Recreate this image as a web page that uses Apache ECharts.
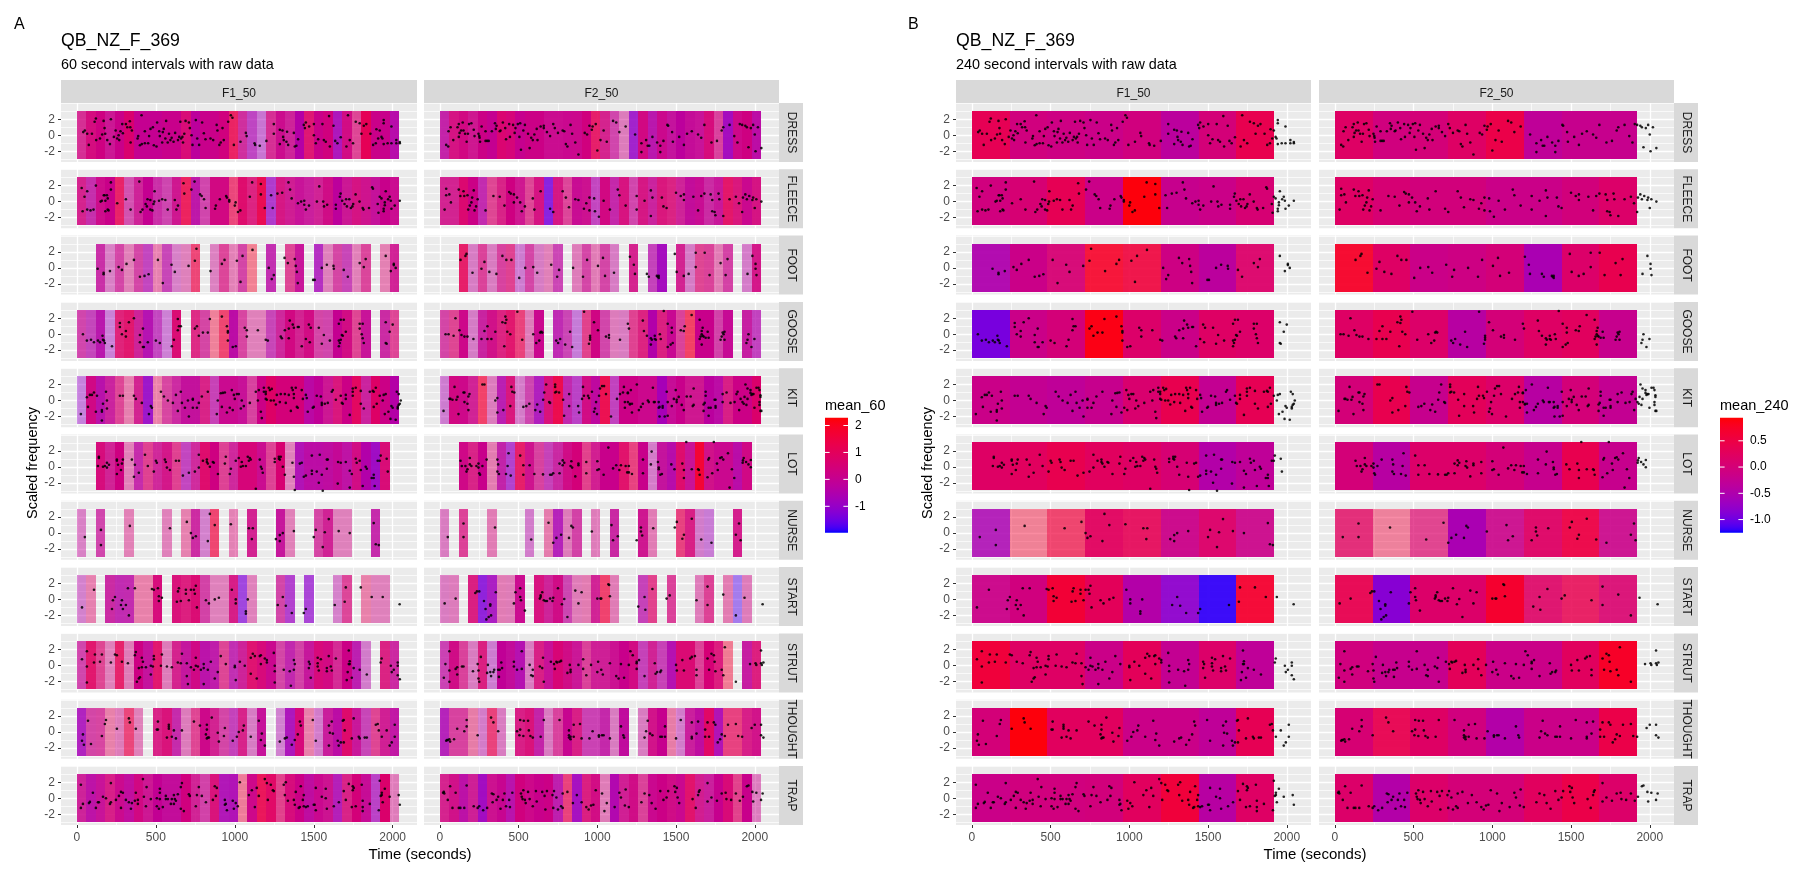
<!DOCTYPE html>
<html><head><meta charset="utf-8">
<style>html,body{margin:0;padding:0;background:#fff}#c{width:1811px;height:877px}</style>
<script src="https://cdn.jsdelivr.net/npm/echarts@6/dist/echarts.min.js"></script>
</head><body><div id="c"></div>
<script>
const PHONEMES=['DRESS','FLEECE','FOOT','GOOSE','KIT','LOT','NURSE','START','STRUT','THOUGHT','TRAP'];
const FILES=['F1','F2'];
const n=null;
// mean_60 per 60-second cell
const m60_F1_DRESS=[.35,.45,.3,.1,.15,.65,0,0,0,.1,.1,.6,-.2,.1,.15,.35,1.3,.1,-.6,-.7,.35,.15,.1,-.4,.8,.15,.35,-.7,.35,.6,1.1,.15,.1,-.4];
const a60_F1_DRESS=[.8,.95,1,.9,1,1,1,1,1,1,1,.95,1,1,1,1,.85,.8,.7,.5,.8,.95,.85,1,.9,1,1,.9,.95,.7,1,1,1,.95];
const m60_F1_FLEECE=[.35,-.2,.2,.15,1.2,0,.15,0,-.1,-.1,.2,1.4,-.3,0,.35,.35,1.3,.8,.65,1.3,-.9,.45,.2,0,0,.2,.3,-.2,.1,.45,.2,-.05,.1,.1];
const a60_F1_FLEECE=[.85,.8,.95,1,.85,.65,.85,1,.8,.7,.9,.85,.9,.7,.97,.97,.7,.95,.85,.95,.75,.9,.88,.92,.87,.85,.95,1,.9,.92,.92,.93,1,.95];
const m60_F1_FOOT=[n,n,-.1,-.1,.15,.45,.15,-.5,.8,-.3,-.2,.3,1.4,n,.1,.5,.5,.15,1.9,n,-.3,n,.6,0,n,-.7,.3,.2,-.3,.45,.45,n,.65,.2];
const a60_F1_FOOT=[n,n,.8,.45,.7,.45,.7,.7,.45,.7,.45,.45,.7,n,.45,.7,.45,.7,.45,n,.8,n,.7,.9,n,.8,.45,.7,.7,.45,.7,n,.45,.85];
const m60_F1_GOOSE=[0,-.4,-.4,-.8,.8,.9,.1,-.5,-.5,-.7,.65,n,.65,.2,1.65,1.55,-.3,.3,.35,.35,-.3,.1,.35,.3,.35,.15,0,0,.35,.65,0,n,-.05,.6];
const a60_F1_GOOSE=[.7,.7,.9,.45,.85,.9,.85,.92,.7,.45,.95,n,.82,.7,.45,.7,.95,.7,.45,.45,.7,.83,.97,.85,.95,.7,.7,1,.95,.7,.92,n,.82,.7];
const m60_F1_KIT=[-1,.3,-.4,0,.6,.8,.3,-1,1.1,.3,0,-.1,-.1,.5,-.3,.1,.1,0,.3,.2,.8,.45,.45,.45,-.3,-.1,.15,.6,.2,1,0,.8,.2,-.4];
const a60_F1_KIT=[.45,.97,.93,.85,.7,.45,.85,.9,.45,.7,.82,.93,.93,.85,.72,.96,.96,.93,.72,1,1,1,1,1,.97,1,.9,.9,1,.97,.85,1,1,1];
const m60_F1_LOT=[n,n,.5,.2,.3,.45,-.2,.65,.15,.35,.65,-.5,.1,.8,.3,.6,.1,.5,.5,.1,.6,.6,.35,-.6,-.3,-.3,-.2,-.05,-.25,.35,-.45,-.9,.6,n];
const a60_F1_LOT=[n,n,.95,.85,1,.45,.82,.72,.83,.9,.72,.7,.82,.95,1,.72,.83,.98,.98,.95,.72,1,.45,.92,.95,.95,.95,.97,.92,.95,1,.95,.95,n];
const m60_F1_NURSE=[-.1,n,0,n,n,.5,n,n,n,.35,n,.8,0,-.4,1.55,n,.6,n,.3,n,n,-.05,.45,n,n,.2,.2,.3,.3,n,n,-.2,n,n];
const a60_F1_NURSE=[.45,n,.7,n,n,.45,n,n,n,.45,n,.45,.82,.45,.7,n,.45,n,.85,n,n,.9,.45,n,n,.7,.85,.45,.45,n,n,.82,n,n];
const m60_F1_START=[-.4,.8,n,-.05,-.35,-.3,1,1,.5,n,.6,.65,.65,.1,.3,.3,.45,-1.3,.3,n,n,.1,-.9,n,-1.1,n,n,-.3,.5,n,1,.3,.3,n];
const a60_F1_START=[.45,.45,n,.82,.82,.82,.45,.45,.95,n,.92,.87,.95,.72,.45,.45,.88,.7,.45,n,n,.7,.72,n,.7,n,n,.45,.7,n,.45,.45,.45,n];
const m60_F1_STRUT=[0,.9,.65,.35,1.1,.35,.25,-.1,.9,.3,.35,-.1,.3,-.35,-.3,.6,-.35,.1,.8,.5,.1,.15,-.3,.1,-.05,.5,.35,.3,.2,-.4,-.4,n,.6,0];
const a60_F1_STRUT=[.7,.9,.7,.45,.85,.47,1,.92,.9,.47,.85,.9,.97,.92,.88,.7,.8,.85,.92,.96,.97,.7,.83,.72,.9,.96,.96,.82,1,.87,.47,n,.85,.83];
const m60_F1_THOUGHT=[-.7,.15,.3,1,.3,1.3,.35,n,.5,.6,-.2,.2,.65,.2,.3,.15,-.4,.45,-.1,-.05,n,-.5,-.7,.5,1,-.4,0,-.3,.8,0,-.3,.65,.2,-.2];
const a60_F1_THOUGHT=[.85,.7,.7,.45,.47,.7,.45,n,.85,.92,.82,.47,.7,.97,.85,.7,.72,.85,.47,.92,n,.45,.9,.96,.45,.47,.88,.95,.96,.9,.7,.7,.87,.9];
const m60_F1_TRAP=[.1,-.3,0,.45,.15,-.15,.35,.15,-.05,-.1,-.1,.35,.2,.05,.6,-.6,-.6,1.55,.2,1.3,.9,.8,.5,.2,-.2,.1,.15,-.6,.5,.45,0,-.7,.7,.3];
const a60_F1_TRAP=[.85,.92,.92,.87,.96,.94,.97,.9,1,.95,.95,1,.85,.72,.92,.9,.92,.47,.97,.9,.96,.72,.95,1,.95,.97,.92,.87,.85,1,.95,.72,1,.47];
const m60_F2_DRESS=[-.2,.45,.35,.2,.2,0,.65,.5,.05,.2,.2,.1,.1,.1,.15,.35,1.1,.35,0,.2,-1,.35,-.4,.15,-.1,-.2,-.05,0,.5,.35,-.8,.2,.3,-.3];
const a60_F2_DRESS=[.85,.92,.97,.9,1,1,.98,.98,1,1,1,.95,.95,.97,.97,1,.87,.85,.7,.47,.85,.97,.9,.97,.92,1,.95,.92,.95,.72,.95,.97,1,.95];
const m60_F2_FLEECE=[.3,.3,.7,.2,-.3,.65,.5,.3,.2,.6,.45,-1.4,.45,.5,.05,.15,-.5,.35,-.2,.5,0,.45,0,.6,.6,.15,-.1,.05,-.05,0,1,.6,.1,.45];
const a60_F2_FLEECE=[.85,.85,.97,1,.82,.7,.85,1,.9,.7,.92,.85,.9,.7,.95,.93,.7,.97,.83,.92,.7,.9,.85,.9,.85,.85,.95,.95,.82,.9,.9,.9,.97,.92];
const m60_F2_FOOT=[n,n,1.1,-.1,.45,0,.3,.65,-.6,.15,-.1,.45,-.2,n,.3,.15,.45,.15,-.1,n,.35,n,-.4,-.8,n,.3,-.2,.65,.45,.5,.15,n,-.3,.35];
const a60_F2_FOOT=[n,n,.87,.47,.72,.47,.72,.72,.47,.7,.47,.45,.7,n,.47,.7,.47,.7,.47,n,.85,n,.72,.95,n,.85,.47,.7,.72,.47,.72,n,.47,.9];
const m60_F2_GOOSE=[.15,.65,.2,-.2,-.05,.3,.65,.9,1.2,.3,.1,n,-.4,-.2,-.9,.8,.3,.05,.2,0,.65,.65,-.45,.6,.05,.45,1.75,.1,.1,.05,0,n,-.1,-.5];
const a60_F2_GOOSE=[.7,.7,.97,.47,.85,.93,.85,.9,.72,.47,.97,n,.82,.7,.47,.72,.98,.7,.47,.47,.72,.85,1,.87,.97,.72,.72,1,1,.72,.96,n,.87,.72];
const m60_F2_KIT=[-.6,.35,.2,.2,1.65,.15,-.45,.6,-.3,-.1,-.7,.6,1.4,-.3,-.7,.35,-.2,1.4,-.5,.2,.2,.15,.15,-.7,0,.1,.2,.2,-.25,-.3,.5,.2,.2,.7];
const a60_F2_KIT=[.47,.97,.97,.85,.72,.47,.87,.9,.47,.7,.87,.92,.95,.83,.72,.95,.97,.93,.72,1,1,.97,.97,1,.95,1,.9,.9,1,.95,.87,1,1,1];
const m60_F2_LOT=[n,n,.25,.5,.1,.65,-.25,-.9,1.1,.2,.3,-.35,-.05,.3,.45,.8,.25,.1,.1,.9,1.1,.1,-.3,-.1,-.4,.8,.05,1.75,.3,.1,.1,-.35,.3,n];
const a60_F2_LOT=[n,n,.97,.85,1,.47,.85,.72,.87,.92,.72,.72,.83,.95,1,.72,.87,1,1,.92,.72,1,.47,.92,.95,.95,.92,.98,.93,.97,.97,.95,.97,n];
const m60_F2_NURSE=[0,n,.5,n,n,.5,n,n,n,-.4,n,.8,-.6,.3,.1,n,.3,n,-.05,n,n,.2,.5,n,n,1.1,.5,-.4,-.8,n,n,.35,n,n];
const a60_F2_NURSE=[.47,n,.72,n,n,.47,n,n,n,.47,n,.47,.85,.47,.72,n,.47,n,.83,n,n,.9,.47,n,n,.72,.87,.47,.47,n,n,.87,n,n];
const m60_F2_START=[0,.2,n,.6,-1.3,-.8,.5,.35,.1,n,.5,.1,.3,-.15,.35,.6,.2,1.55,.45,n,n,-.35,.8,n,.45,n,n,.3,.55,n,.6,-1.7,.3,n];
const a60_F2_START=[.47,.47,n,.87,.85,.87,.47,.47,.95,n,.92,.85,.95,.7,.47,.47,.85,.72,.47,n,n,.72,.72,n,.72,n,n,.47,.72,n,.47,.47,.47,n];
const m60_F2_STRUT=[-.2,.3,.4,0,.6,-.6,-.1,-.1,-.5,0,.5,0,.55,.3,.05,.45,.15,.15,.1,.1,.35,-.35,.2,-.3,-.5,.65,.65,.5,.5,.65,1.75,n,-.1,.65];
const a60_F2_STRUT=[.72,.95,.72,.47,.87,.47,1,.95,.93,.47,.87,.93,.98,.95,.9,.72,.87,.87,.93,1,.96,.72,.85,.72,.93,.96,.96,.72,1,.88,.47,n,.88,.87];
const m60_F2_THOUGHT=[-.6,.3,.3,1,-.3,1.2,0,n,.5,.6,-.2,0,.35,.05,.5,-.2,-.2,-.2,0,-.15,n,0,.3,.05,1,-.4,0,-.2,.9,-.6,1.1,1.1,.45,.3];
const a60_F2_THOUGHT=[.85,.72,.72,.47,.47,.72,.47,n,.87,.92,.85,.47,.72,.98,.87,.72,.72,.83,.47,.95,n,.47,.92,1,.47,.47,.87,.95,.97,.92,.72,.72,.87,.92];
const m60_F2_TRAP=[.35,.3,-.3,.15,-.85,.15,.05,-.4,.35,.2,.1,.2,-.35,1.2,-.8,.6,.35,.35,-.5,.2,.3,.45,.1,.2,.3,.1,.9,.25,0,.05,.55,.8,.1,.1];
const a60_F2_TRAP=[.85,.93,.93,.87,.95,.93,.98,.92,1,.97,1,1,.87,.72,.93,.87,.95,.47,.97,.87,.95,.72,.97,1,.95,.97,.92,.88,.87,1,.96,.72,1,.47];
// mean_240 per 240-second cell
const m240_F1_DRESS=[.35,-.05,-.1,-.15,-.05,-.35,0,.4];
const a240_F1_DRESS=[1,1,1,1,1,1,1,1];
const m240_F1_FLEECE=[-.05,.05,.35,-.15,.9,-.2,-.15,.05];
const a240_F1_FLEECE=[1,1,1,1,1,1,1,1];
const m240_F1_FOOT=[-.5,-.15,.05,.74,.58,-.1,-.35,.15];
const a240_F1_FOOT=[.95,1,.95,.9,.9,1,1,.95];
const m240_F1_GOOSE=[-.95,-.15,0,.86,.15,-.15,.2,.15];
const a240_F1_GOOSE=[1,1,1,1,1,1,1,1];
const m240_F1_KIT=[-.15,-.25,-.3,-.2,.1,.4,-.25,.35];
const a240_F1_KIT=[1,1,1,1,1,1,1,1];
const m240_F1_LOT=[.2,.25,.4,.25,.2,.05,-.45,-.3];
const a240_F1_LOT=[1,1,1,1,1,1,1,1];
const m240_F1_NURSE=[-.55,.68,.58,.25,.35,-.15,.15,-.15];
const a240_F1_NURSE=[.85,.45,.7,.95,.9,.95,.97,.92];
const m240_F1_START=[-.15,-.05,.62,.3,-.45,-.8,-1.2,.68];
const a240_F1_START=[.95,1,1,1,1,.95,.95,.95];
const m240_F1_STRUT=[.58,.2,.2,-.15,.3,-.25,.15,-.3];
const a240_F1_STRUT=[1,1,1,1,1,1,1,1];
const m240_F1_THOUGHT=[0,.9,.25,.25,-.15,-.15,-.3,.35];
const a240_F1_THOUGHT=[1,1,1,1,1,1,1,1];
const m240_F1_TRAP=[-.15,-.05,-.05,-.03,.25,.58,-.4,.2];
const a240_F1_TRAP=[1,1,1,1,1,1,1,1];
const m240_F2_DRESS=[.2,-.05,0,.2,.45,-.3,-.2,-.2];
const a240_F2_DRESS=[1,1,1,1,1,1,1,1];
const m240_F2_FLEECE=[.2,.05,-.03,-.03,-.15,-.15,-.03,.15];
const a240_F2_FLEECE=[1,1,1,1,1,1,1,1];
const m240_F2_FOOT=[.74,.2,-.15,-.1,0,-.55,.15,.4];
const a240_F2_FOOT=[.95,1,1,1,1,1,1,1];
const m240_F2_GOOSE=[.2,.4,.15,-.4,0,.2,.25,-.2];
const a240_F2_GOOSE=[1,1,1,1,1,1,1,1];
const m240_F2_KIT=[0,.4,-.2,.3,.15,-.4,0,-.25];
const a240_F2_KIT=[1,1,1,1,1,1,1,1];
const m240_F2_LOT=[0,-.4,.15,.15,0,-.2,.4,-.2];
const a240_F2_LOT=[1,1,1,1,1,1,1,1];
const m240_F2_NURSE=[.25,.58,.15,-.55,-.15,.2,.5,-.15];
const a240_F2_NURSE=[.8,.45,.7,1,.9,.95,.95,.9];
const m240_F2_START=[.4,-.85,.15,.15,.68,.2,.4,.1];
const a240_F2_START=[.95,1,1,1,1,.9,.85,.9];
const m240_F2_STRUT=[-.05,-.2,-.2,.3,-.15,-.15,.25,.74];
const a240_F2_STRUT=[1,1,1,1,1,1,1,1];
const m240_F2_THOUGHT=[.05,.4,.2,-.05,-.45,-.15,-.15,.45];
const a240_F2_THOUGHT=[1,.95,1,1,1,1,1,1];
const m240_F2_TRAP=[.15,-.45,.15,0,0,.25,.45,.15];
const a240_F2_TRAP=[1,1,1,1,1,1,1,1];
// raw points: time, scaled frequency, time, scaled frequency ...
const pts_F1_DRESS=[40,.4,50,.6,65,.2,75,-1.2,95,.2,112,1.7,120,2.1,122,-.6,146,-.4,160,.1,169,1.8,175,.9,179,.2,192,-.6,209,-1.1,215,2,234,-.2,245,.6,255,-.4,264,0,268,-.6,276,.5,287,1.4,291,.25,310,1.4,319,1,335,1.75,338,1,340,-.9,348,.6,384,-.4,388,-.1,399,-1.25,409,2.5,411,-1.1,430,.5,430,-1,451,-1,457,-.1,466,.8,481,1,487,-1.25,504,-1.4,508,1.6,521,.5,525,-.1,540,-.9,544,.4,550,.8,560,-.4,565,1.8,575,-.9,583,.2,592,-.6,600,-.3,612,-.8,622,.3,640,-.6,648,-.2,655,1.7,660,-.4,668,-.2,672,-.9,680,.2,688,1.8,709,1.6,715,.9,726,0,732,-1.2,753,1.9,762,-.4,774,-1.2,793,1.6,804,.25,814,-.5,846,-.4,863,-.6,885,1.3,890,.6,902,-1.2,911,-.9,922,.9,930,-.6,958,1.7,975,2.5,985,2.2,994,-1.2,1036,-.8,1070,.3,1075,-.1,1125,-1,1129,-1.2,1158,-1.3,1200,-.7,1247,1.4,1247,.2,1285,.7,1285,-1.1,1302,.6,1306,-.2,1310,-.6,1327,-.8,1331,.45,1338,-1.2,1374,.3,1380,-1.4,1390,-1.3,1401,-.5,1437,1.3,1450,1.6,1444,.9,1471,1.1,1501,1.4,1501,0,1513,-1,1528,-.5,1555,1.4,1564,-.6,1576,-.8,1597,2.4,1602,-1.4,1625,1.2,1636,-.7,1650,-1,1671,-.25,1707,-1.4,1717,2.5,1728,-.6,1749,-1,1766,1.7,1791,1.5,1802,.2,1817,1.2,1833,1.4,1859,.2,1876,-1.2,1893,-1,1897,.75,1918,.6,1908,-.4,1929,-.2,1935,-.4,1943,1.9,1943,1.5,1943,-1.1,1968,-1,1992,1.1,1992,-1,2023,-.6,2023,-1,2045,-1,2045,-.85];
const pts_F1_FLEECE=[30,1.7,48,.6,36,-1.2,65,1.3,65,-1,86,-1.1,105,-1,120,2,150,0,158,.1,170,.8,180,.1,175,.8,180,-1.2,190,.8,195,.4,195,-1,200,-1.1,215,2.4,215,1.5,255,-.2,310,.3,340,-1,395,2.5,403,-1.3,415,-1,435,-.3,447,.3,443,-.6,465,.2,465,-1,478,-1.1,485,-.3,490,0,492,1.3,520,.1,540,.3,560,.2,575,-1,620,.2,640,-.5,630,-1,680,1,675,2.3,725,1.5,745,2.5,780,.9,790,.7,805,.3,815,-.8,875,-.9,880,-.5,905,.3,945,.7,950,.5,965,.2,965,0,1000,-.5,1005,-.1,1035,-1.1,1020,-1.3,1095,.6,1110,2.4,1165,2.2,1165,.9,1190,-.8,1230,.8,1240,-.8,1270,1,1300,1.1,1340,2.4,1350,1.5,1360,.4,1400,-.2,1420,0,1440,-.4,1440,.1,1450,-1,1470,-.5,1520,0,1535,1.9,1560,0,1565,-.6,1585,-.4,1640,-.4,1640,-.9,1670,1,1665,.6,1680,.1,1695,-.3,1705,.3,1710,-.6,1725,.3,1750,-.3,1735,-.8,1745,-.6,1765,.9,1790,0,1810,-.8,1815,-1,1850,-.8,1870,1.8,1875,1.6,1905,-.3,1910,-1.4,1918,.6,1929,.4,1950,-.1,1950,-.45,1956,1.3,1971,.3,1981,.6,1988,.1,1992,-.9,2013,-.5,1943,-1.2,1943,-.9,2045,.1];
const pts_F1_FOOT=[131,-.1,169,-.6,169,-.8,209,-.4,264,.1,285,-.25,314,.5,361,1,399,-1.1,428,-1,454,-.8,513,1,544,-1.9,599,.4,620,-.5,707,.25,747,.9,757,2.4,846,-.4,918,.5,935,1,1013,.9,1049,1.5,1036,-1.75,1112,2.25,1215,0,1247,-.9,1234,-1.4,1315,1.25,1336,.6,1380,1.1,1386,.25,1393,-.5,1399,-1.9,1496,-1.5,1506,-1.5,1551,0,1583,.4,1625,.25,1627,-.1,1690,-.25,1716,-1.1,1791,.6,1817,.1,1829,1.1,1956,1.5,1988,-.4,2007,.5,2007,.35,2019,0];
const pts_F1_GOOSE=[38,0,63,-.8,89,-.7,108,-1,133,-.8,146,-1,162,-.2,165,-.7,171,-.8,177,-1.1,222,-1.5,272,1.4,272,.9,285,0,310,.4,310,-.3,329,1.5,361,2,399,-.1,418,.7,399,-1,418,-1.6,424,-1.6,449,-1,500,-.8,525,-1.1,601,-1.5,614,-.7,639,1.9,639,.5,646,1,658,1,747,.7,760,1,772,-.2,798,.2,829,.2,842,1.9,918,2.2,950,1,956,.2,956,.4,956,-.8,987,-1.6,1006,-1.5,1063,.8,1076,.5,1076,-.3,1146,.5,1196,-.7,1209,-.8,1291,-.3,1298,-.5,1317,.5,1342,.7,1348,1.7,1342,-.5,1367,1.2,1374,.8,1399,.9,1405,.9,1424,-1.5,1450,-.6,1475,-1,1469,1.2,1481,.8,1532,.8,1564,-.1,1551,-1.2,1602,-.8,1659,1.3,1671,1.8,1690,1.8,1703,.3,1684,-.2,1678,-.1,1671,-.7,1659,-.8,1665,-1.1,1659,-1.5,1791,1.3,1810,1.3,1791,.7,1804,0,1810,-.5,1817,-1.1,1956,1.5,2000,1.2,1981,.3,1956,-1.1,1962,-1.2];
const pts_F1_KIT=[25,-1.7,63,.4,70,-.8,82,.7,95,.7,108,1,120,-1.4,127,.6,158,-1.2,158,-1.4,165,-.4,184,1.1,190,0,190,-1,158,-2.5,272,.6,291,.6,361,.6,373,.2,411,-.3,456,-1.7,468,-.7,475,-.9,532,1.1,551,.5,576,0,608,-.3,627,.7,639,-1.3,658,1.1,665,-.3,684,-.9,703,0,709,-2,734,.2,734,.1,734,-.9,760,-.9,772,-.3,791,.5,829,1.1,886,-1.7,892,0,918,-.8,911,.9,924,.95,937,1,950,-1.5,968,-.9,981,1.3,994,.7,1000,.2,987,-1.2,1013,.8,1025,.8,1038,-1,1044,0,1057,-.7,1095,-.3,1133,1.1,1146,0,1152,1.3,1165,-1.4,1171,-2.2,1184,1.6,1184,1.1,1196,1.1,1196,.2,1196,.8,1203,.1,1215,1.6,1222,1.3,1234,1.45,1228,0,1247,0,1260,-.5,1266,.7,1291,.8,1285,-.2,1323,-.3,1317,.8,1342,.7,1355,-1.3,1361,1.6,1367,1.3,1374,.8,1374,.3,1386,1.6,1393,-.8,1399,-.9,1424,1.3,1431,.2,1450,.7,1456,.3,1462,-1.4,1494,-.9,1500,-.8,1519,.6,1545,.5,1551,-.3,1551,-.55,1570,-.4,1589,-.3,1614,1.1,1621,1.3,1640,.1,1671,.6,1678,-.3,1684,-.4,1703,.2,1703,.7,1728,-1.8,1747,1.5,1747,1.1,1747,.6,1766,1.6,1798,1.2,1798,-.4,1817,-1,1855,1.1,1874,1.2,1880,1.1,1880,-.8,1899,-.4,1893,1.6,1918,.6,1937,0,1943,.7,1956,.8,1950,-1.7,1973,-1.4,1986,-2.3,2019,-2.4,1992,-.7,2000,-.9,2026,1.1,2038,.8,2032,-1,2032,-.8,2038,-.55,2045,-.4,2051,0];
const pts_F1_LOT=[139,1.25,139,1.1,133,.1,165,0,177,.1,190,-.1,190,.5,203,.25,253,.9,253,.75,260,.25,253,-.9,279,-.4,285,.4,291,.9,348,.9,367,.25,361,-1.25,392,-.75,431,1.5,449,.1,487,-.6,500,.75,506,.5,557,.9,563,.6,570,-.1,589,-.4,627,.75,646,.75,671,-1.1,709,-.75,747,-.6,772,1.5,772,-.1,798,.75,823,.9,823,.6,829,.4,842,0,861,.6,867,.5,893,-.9,937,.4,943,1.25,968,-.9,975,-.25,1006,.75,1025,1.1,1044,.6,1038,0,1051,.1,1070,.1,1082,1.25,1095,1.1,1101,.9,1089,.75,1133,-2.75,1158,.9,1165,0,1171,-.25,1177,-.75,1253,1,1253,.6,1279,1.25,1285,.9,1291,1.25,1279,1,1304,0,1317,-1,1365,.5,1374,-1.25,1380,-2.9,1412,.4,1424,.5,1437,-1.25,1450,-1.1,1488,1.4,1488,-.5,1488,-.9,1519,-.6,1532,-2,1538,1.5,1551,-1,1583,.9,1589,.9,1583,-.25,1557,-3,1654,.6,1671,.5,1652,-2.1,1703,.6,1728,-.5,1741,-.9,1728,-2.6,1766,1,1772,.5,1798,-.4,1791,.75,1829,0,1836,-.25,1810,-2.4,1867,-1.4,1880,-1.4,1880,-1,1886,-2.4,1905,.75,1918,.75,1924,1.4,1962,1,1969,-.6];
const pts_F1_NURSE=[50,-.5,152,.4,152,-1.5,335,.9,589,.6,696,1.4,722,0,734,-.6,753,-.4,829,-1,842,2.4,873,1,975,1.1,1089,.6,1114,.6,1108,-.75,1260,-.75,1285,-.25,1304,0,1285,-1,1374,.25,1500,-.5,1513,.4,1557,-1.75,1570,.1,1595,1.75,1658,.25,1728,0,1880,1.25,1893,-1.4,1912,-1.5];
const pts_F1_START=[32,-1,108,1.2,222,-1.2,228,-.1,241,.3,285,-.1,279,-.7,310,-.7,291,-1.2,329,-2,323,1.4,367,1.4,475,1.3,487,1.2,513,1.4,519,.4,519,-.2,538,.2,633,-.3,646,1.4,640,1,658,-.2,690,1.2,690,.7,709,-.1,722,1.2,741,1.2,747,.7,753,1.7,760,-1,817,-.1,836,-.5,873,0,899,.2,981,1.2,1006,0,1006,-.5,1070,-1.5,1070,-1.8,1082,0,1272,-.7,1304,.3,1323,-.8,1361,-1.7,1437,-1.7,1450,-1.2,1633,-.7,1696,-.3,1703,1.5,1798,1.5,1867,.3,1937,.3,2044,-.6];
const pts_F1_STRUT=[32,.8,63,1.8,63,-.1,63,-2.1,108,.4,114,1.4,146,.5,158,1.4,215,.4,241,1.4,253,1.3,285,.5,323,.3,367,1.3,373,1.7,380,-2,392,-.3,392,-1.6,399,-1.45,411,1,418,.5,411,-.2,437,-.2,468,0,468,-1.1,487,1.2,487,.8,481,-.1,538,1.4,532,0,570,-.1,601,-.2,639,.4,665,1.5,658,.3,696,.3,696,-1.3,703,-2.3,722,-.2,741,-.5,753,1,753,0,766,-.1,785,-.5,803,.2,803,-.3,803,-2.3,829,-.5,848,.5,873,-1.6,892,-.8,911,1.2,943,.2,1000,0,1000,-.2,1006,-1.8,1032,.5,1063,0,1101,1,1101,-1,1114,1.5,1127,1.2,1139,-1.6,1165,1.3,1158,1.2,1165,.2,1190,.9,1203,.7,1203,.4,1247,1.6,1253,0,1253,-.7,1253,-2.1,1310,-.5,1348,-.7,1355,-2.5,1374,.7,1380,.2,1374,-.5,1469,.5,1475,.2,1469,-.3,1481,-1.5,1525,1,1525,.3,1525,-.1,1532,-.6,1545,.8,1583,-.3,1583,-.7,1595,1.2,1608,-.1,1614,-.6,1640,.9,1709,-1.8,1715,-.8,1722,1.9,1728,.2,1728,.55,1722,.2,1741,-1.5,1753,-.3,1791,-.5,1836,-1.1,1924,.4,1930,.9,1988,0,2007,-.5,1994,-.8,2032,.4,2032,0,2032,-1.2,2045,-1.7];
const pts_F1_THOUGHT=[32,-1.1,38,-.3,44,-1.6,70,1.4,89,-1.5,158,-.5,177,1,184,1.5,253,.4,329,1.7,335,1.2,373,.4,513,1.3,506,.3,513,.3,582,.9,582,.65,582,.4,570,-.7,601,-.6,614,.2,627,-.8,665,.2,741,1.3,779,.8,823,.9,823,.3,817,-.3,823,-.8,829,-.7,836,-.7,854,1.8,892,-.1,899,-1.2,937,.5,931,-.5,987,-1.1,1025,0,1051,.2,1057,.8,1013,-.6,1101,-.6,1152,1.4,1171,-.2,1165,-1,1190,-1.7,1285,-1.2,1317,-.8,1329,-.7,1361,-1.6,1380,-1,1399,-.3,1412,1.3,1418,.8,1494,1.5,1513,-1.1,1596,-1.7,1596,.8,1614,1.3,1602,-.1,1621,-.2,1652,-1.1,1658,-1.7,1671,-1.3,1696,.2,1690,-1.3,1684,1.4,1690,1.5,1753,1.7,1741,-.8,1785,-.6,1791,-.8,1823,-.7,1836,-.7,1893,.9,1905,1,1912,.2,1931,-.6,1962,.2,1981,-1.7,1994,-1.3,2013,.9,2013,-.6];
const pts_F1_TRAP=[25,1.7,38,-.7,25,-1.2,76,-.6,82,-.45,101,.7,120,-1.2,133,-.5,139,-.5,165,.2,184,0,215,1.9,215,-.5,209,-.7,247,-.2,266,.3,279,.8,291,.7,279,-1.2,310,-.2,329,-.5,342,-1.3,348,-.6,367,-.3,373,.7,386,-.2,386,-.7,418,2.4,424,.2,437,-1,441,1.4,468,-.1,506,0,506,-1,519,-1.3,525,-.1,525,1.2,525,.7,544,-1.1,563,.3,563,-.1,576,-.1,595,-.7,601,-.1,614,.4,620,-.1,614,-.7,627,-.3,639,.5,658,-1.3,665,1.9,658,1.4,677,-1.6,709,.5,715,.3,753,-1,760,.4,772,1.4,791,.3,817,-.5,861,-.2,873,1.5,880,.3,886,1.3,937,-.2,943,-.7,937,-.8,950,-1.5,987,-.3,994,-1.3,1006,-.6,1019,-1,1032,2,1089,.4,1108,1,1127,-1.1,1139,1.3,1152,.3,1190,2.4,1203,1.9,1209,-.2,1241,1,1247,.9,1228,1.7,1310,1.7,1323,2,1317,.4,1336,-.3,1374,-.2,1380,-.8,1386,.8,1405,-1.2,1412,-1.1,1418,1.5,1437,.4,1431,-.2,1437,-1,1450,-1.1,1462,-1,1500,-.8,1506,-.8,1513,1.3,1513,-1.5,1551,.2,1576,1.2,1576,0,1583,-1.3,1627,-1,1659,-.5,1690,.9,1703,-.2,1722,1.8,1747,1.5,1747,1,1741,-1.1,1753,1.3,1766,-1,1804,1.7,1810,-.3,1810,-1.1,1810,-1.6,1855,-.7,1918,2.2,1912,-1.5,1950,1.2,1931,.7,1924,.3,1931,.4,1981,.2,1937,-.5,2038,.4,2045,-.8];
const pts_F2_DRESS=[40,-1.2,53,-1.4,55,.5,68,1,85,-.6,112,1,120,1.4,120,-.2,125,.3,135,.6,145,1.6,150,.6,160,.2,170,-.8,178,.2,185,1.4,200,1.5,215,.7,220,-.1,245,.2,250,-.1,252,-.3,255,-.8,265,1.1,290,.5,290,-.7,300,-.7,310,-.7,330,.5,350,1.5,355,.8,360,1.2,380,.5,385,.6,400,1.6,415,.9,420,-.5,440,1.4,445,-.2,465,1.3,475,.3,480,.9,495,1.4,510,1.5,505,-.2,515,-1.8,530,.6,540,1.3,560,.2,570,-1.6,580,-.3,590,-.6,600,.1,615,.8,620,-.6,640,1.1,660,1.2,660,.9,680,.4,700,-.1,720,1.4,730,.9,750,.3,780,.6,790,.5,800,-1.1,810,-1.4,830,1.3,840,.2,860,-.9,880,-2.4,920,.3,935,.1,950,1.2,965,.7,970,1.1,990,1.4,1000,-1.9,1020,-.6,1040,.6,1060,-.8,1100,1.8,1120,1.6,1140,.4,1180,1.1,1240,.1,1280,-1,1310,-.6,1320,-1.3,1280,-2.1,1330,-1.3,1350,-.2,1380,-.9,1400,-1.3,1420,-.7,1400,-2.1,1445,1.3,1450,1.2,1475,.4,1480,-.8,1520,-.2,1550,-1.2,1570,.2,1600,.5,1640,.1,1660,-.3,1680,1.3,1725,-.9,1760,-.7,1790,.6,1800,1,1840,1.3,1870,-.1,1890,-.9,1905,1.4,1920,1.3,1940,1.2,1950,1,1960,-1.5,1975,.9,1990,1.3,2000,.1,2020,1,2005,-2,2042,-1.6];
const pts_F2_FLEECE=[30,-1,40,1.6,40,.8,60,.9,70,-.1,120,1.5,130,.7,150,1.3,155,.7,175,.8,180,-1,190,-.5,200,-.1,205,.5,215,1.4,220,-1.1,230,-.6,240,.3,290,-1.1,340,.7,380,.6,410,-.5,440,1.2,450,1,470,.9,470,-.1,490,.5,510,-.1,520,-1.2,540,-.6,590,.4,600,-1,640,1.3,700,-.9,780,1.3,720,-1.3,800,.5,820,-.7,860,.3,880,.2,915,-.9,930,-.2,950,.5,950,-1.1,980,.4,985,-1.2,1040,.1,1010,-1.9,1080,-1,1130,1.5,1140,.8,1180,-.5,1250,.7,1250,-1,1300,.1,1340,1.4,1340,-1.8,1350,.5,1410,.5,1420,-.6,1440,-.8,1500,1.1,1530,.7,1550,.9,1550,.2,1610,.6,1640,-1.1,1660,.7,1680,1,1720,.9,1730,.2,1730,-1.2,1745,-1.3,1750,-1.7,1770,1,1775,.3,1800,-1.8,1840,.3,1880,.6,1900,-.2,1920,-1.3,1925,.5,1940,.9,1950,.3,1965,.7,1985,.2,1990,.5,2000,-.8,2010,.3,2042,0];
const pts_F2_FOOT=[131,1,162,1.5,169,1.75,207,-.6,264,-.1,283,.75,314,-.5,359,-.75,397,1.5,422,1,454,1,504,-1.25,542,0,593,.1,618,-.6,707,.4,745,-1.1,757,-.25,846,0,909,-1.1,935,1,1004,.25,1036,1.25,1049,-1,1106,-.6,1207,1.4,1232,.4,1239,-.75,1315,-.75,1327,-1.1,1378,-1,1384,-1.1,1390,-1,1390,-1.25,1492,1.75,1504,-.5,1549,-1,1580,-.75,1625,1.9,1682,1.9,1625,.1,1713,-.9,1783,.6,1815,-.9,1827,1.1,1954,-.75,1985,1.5,2005,.5,2005,-.1,2011,-.9];
const pts_F2_GOOSE=[36,0,55,0,87,-.2,99,2,124,.5,137,-.1,156,-.3,175,-.3,213,-.6,264,-.6,283,.4,302,-.6,302,1,327,-.6,352,.3,397,1.5,416,2.2,416,1.4,422,1.8,428,.3,447,0,409,-1.5,492,2.8,523,-.7,593,0,612,-1.1,631,-.8,637,.2,643,.3,650,.2,739,-.8,751,-1.1,764,-.6,796,-1.3,827,.3,840,-1.6,916,2.8,954,-.2,954,-.45,954,-.7,947,-1.2,979,1.5,1004,.5,1055,-.3,1074,-.1,1074,-.45,1144,-.7,1194,1.3,1201,.7,1289,1.7,1296,.4,1315,-.2,1340,-.5,1340,-1.3,1346,-.7,1365,-.6,1372,-.7,1365,-.2,1397,0,1403,-.6,1422,2.9,1447,1.3,1447,-1.6,1466,-1.3,1473,.8,1473,.2,1479,-1.1,1530,.5,1549,.4,1555,1,1599,2.4,1650,1.8,1669,.8,1663,.4,1663,0,1656,-.3,1650,-.6,1669,-.2,1675,-.3,1688,-.45,1701,.3,1707,-.45,1663,-1.3,1783,-.7,1790,-.3,1796,.2,1802,0,1808,.3,1808,-.7,1960,0,1954,-.7,1947,-1.1,1979,-1.6,1998,-.6];
const pts_F2_KIT=[23,-1.3,61,.2,67,.2,80,.1,93,1.7,105,.1,112,.45,118,-1.7,150,1,156,1,156,-.2,181,.5,175,-.4,181,-1.2,188,.8,270,2,283,2,352,0,365,.3,365,-1.5,403,-1.2,447,-.7,454,1.7,460,1.1,473,1,530,-.8,549,-.7,568,-.4,606,-1.2,618,-.5,637,-1.4,656,.1,675,2,663,1,694,-.2,700,-.3,732,2,732,1.7,732,1,739,1.1,757,1,783,.1,789,-1.9,821,.8,821,-.7,878,-.7,884,-1.5,909,1.7,903,.2,915,.6,941,.6,947,.3,966,1.1,992,-.2,985,-1,979,-1.4,998,-1.7,1011,.6,1017,1.5,1030,1.8,1043,1.8,1055,.8,1087,-2,1125,.2,1144,.8,1163,1,1169,1.7,1175,-.2,1175,-.9,1194,1,1194,.9,1207,-.4,1213,1.3,1194,-.2,1207,-.5,1220,-.4,1251,2,1220,-1.5,1264,-1.2,1277,-.8,1289,-.4,1321,0,1327,-.2,1353,1.6,1359,-.2,1365,-.2,1390,-.2,1395,-.8,1415,-.9,1415,-.7,1390,-.9,1395,-2,1428,-2,1447,-1.9,1441,1.1,1447,-.2,1473,-.7,1486,.2,1504,.1,1504,-.2,1517,.45,1498,1.3,1536,-.55,1549,-1.2,1568,.5,1593,.5,1606,-.7,1612,-.55,1612,1.5,1675,-.5,1682,-.3,1675,-1.3,1688,.6,1688,1.1,1707,-1.9,1707,-.9,1720,-.9,1745,.1,1751,.1,1751,-.9,1751,-.7,1796,-.2,1796,.8,1821,1,1846,-.3,1872,-.2,1884,.8,1891,1.1,1901,-1.2,1910,.2,1922,-.2,1930,-.4,1935,.45,1947,-.55,1954,.2,1941,2,1954,1.5,1973,1.3,1979,.7,1985,.8,1992,.8,1973,.95,1998,-.9,2011,1.6,2024,1.6,2030,1.3,2030,-.2,2030,-.55,2036,.65,2036,.45,2036,-1.3,2042,-1.3];
const pts_F2_LOT=[131,.75,139,.1,162,.1,169,-.6,175,-.3,190,1.1,190,.3,200,.1,232,.1,245,-.1,245,.4,250,-.8,255,-1,270,.1,297,.9,365,-.6,365,.9,370,.3,375,-.9,420,-.9,436,1.7,430,.1,450,-1.1,510,1.4,530,-1,530,.2,570,.2,600,-.9,655,-.95,700,-1,710,-1,720,-.8,760,-.8,760,.4,780,.8,790,.5,780,.2,835,.7,830,.1,840,-.1,860,-1.2,880,.4,880,.2,930,.6,930,-.8,1000,.7,1000,-.4,1010,-.3,1070,2.4,1040,-1,1100,-.2,1120,.2,1150,.2,1140,-.4,1180,.1,1190,-.7,1200,-.7,1200,.1,1220,-.9,1290,.9,1290,-.8,1345,1.9,1340,.3,1385,.6,1390,-.1,1400,-1,1390,-.3,1410,-.9,1470,.3,1490,-.3,1540,.4,1550,-.4,1550,-1.4,1600,-.3,1640,-.3,1645,-.4,1650,-1,1700,-1.3,1705,.9,1710,1.1,1760,.4,1765,-.4,1730,-.8,1780,1.1,1790,1.2,1800,.9,1830,1.7,1855,-.3,1870,-1.4,1840,-2.6,1925,.8,1923,.5,1930,1.1,1945,.6,1975,.85,1960,.3,1975,-.05,1565,3.1,1740,3.1];
const pts_F2_NURSE=[50,-.5,150,-.5,150,1.2,350,.7,580,-.8,690,1.3,720,-1.2,740,-.6,770,-.2,820,-.6,835,.9,845,.7,965,.2,1090,1,1130,-.4,1100,-.9,1250,-.9,1277,.7,1277,.2,1285,-.3,1355,.6,1492,.7,1505,1.4,1540,-.7,1550,-.2,1600,1.8,1660,-.8,1725,-1.2,1880,-.2,1900,1.2,1910,-.9];
const pts_F2_START=[30,-.5,100,.1,225,.8,235,1,250,1,280,-.2,290,-1.2,320,-.8,320,-.6,325,-2,295,-2.5,310,-2.2,355,.9,480,.9,470,-.5,510,1.4,510,.3,515,-.1,540,-1.4,640,.5,640,.3,650,.9,635,.1,660,-.1,670,-.2,680,-.2,700,.1,715,-.2,720,.2,750,1.4,775,-.6,790,.05,810,-2.2,860,1.1,880,-.5,900,.9,1000,.1,1020,.1,1025,.1,1070,1.9,1075,1.8,1080,.4,1260,-.9,1305,-1.3,1300,.3,1350,1.3,1440,.1,1460,.5,1630,-.1,1700,-.7,1700,1.6,1800,.6,1880,-2,1935,.2,2050,-.6];
const pts_F2_STRUT=[25,-1.5,35,.2,60,1.8,60,-.6,60,-2,100,-.4,110,-.2,110,-1.1,140,-.1,150,-.1,210,-.7,245,-1.6,250,-2,260,1.1,240,.2,245,-.6,300,-.9,305,.1,320,-.8,325,-1.3,340,-.8,345,-.5,370,-.5,395,-.3,375,-1.4,380,-.5,390,.4,470,-.1,490,-.5,520,1.8,470,.5,520,-.4,570,.1,580,-1.2,590,-.5,590,-1.3,635,-.1,655,1,650,-.3,660,-2,705,.5,725,.2,730,-.4,740,.5,760,.5,745,.4,770,.6,810,-.9,830,-.8,825,.1,830,-.5,880,.1,910,-.4,930,-1.2,910,.8,960,.1,1000,-.8,1005,.5,1025,-.5,1035,-1.1,1080,.3,1120,-1.3,1135,-1.6,1170,-1.5,1150,.2,1200,.1,1210,1.8,1225,1.3,1250,.5,1250,.3,1250,-.4,1265,.7,1300,-1.3,1365,.3,1380,-.8,1405,-.6,1370,-1,1400,-.8,1500,.1,1505,-.6,1540,.7,1550,-.6,1590,.9,1600,1.1,1620,1.2,1630,-.5,1630,-1.2,1700,.9,1710,-.5,1740,1.3,1725,1.5,1745,.5,1750,-.7,1790,-.5,1810,2.3,1800,-1.2,1880,-2,1970,.2,2005,.3,2010,.1,2045,.1,2040,.3,2040,1.9,2055,.4];
const pts_F2_THOUGHT=[40,-1.1,45,-1,50,-1,60,-.9,90,-.9,65,-1.2,110,.4,170,1.5,170,.7,155,.1,240,-.4,325,1.8,340,1.2,370,.1,510,1.5,490,.1,510,.3,505,-.4,530,-.5,533,1.4,560,1.4,565,.2,575,-.5,590,-.7,640,-.6,660,1.5,760,1.5,820,-.7,820,.2,850,.9,830,-.6,820,-.4,830,-.9,850,-.6,900,-.8,890,1,950,-.8,970,.1,1010,-.6,1030,-.4,1040,-.4,1010,-.4,1080,-.8,1150,.7,1165,-.4,1170,-.7,1300,-.7,1310,.1,1335,-.2,1320,1.4,1350,-.4,1400,-.6,1410,-.6,1430,.7,1430,-.6,1500,-.8,1530,1.5,1600,-.8,1600,-.6,1600,1.2,1630,-.2,1640,1.3,1685,.3,1685,-.6,1700,1.2,1710,-.6,1740,1.2,1750,.9,1780,-.9,1790,-.3,1765,-1.3,1810,-.5,1830,.9,1880,1,1895,-.5,1920,-.6,1980,.5,2000,.9,2040,-.4,2055,-.7,2040,.9];
const pts_F2_TRAP=[20,.7,25,.8,28,.6,50,-.2,65,1.5,80,-1.2,100,.7,120,-1.2,130,-1.2,155,-1.2,170,1.6,215,-1,240,-1.2,250,-1,275,-1.5,300,-1.2,330,.6,340,.5,335,-.5,360,-.2,370,.2,385,-1.3,410,.6,400,-.2,420,-1,440,-.2,445,-1.1,460,.7,515,.6,530,1,520,.2,525,-.1,540,-.2,560,.8,545,-.6,570,-.1,590,-1,610,.9,615,-.4,650,.8,665,.3,680,.9,670,-1.4,715,.4,725,.9,720,-1.2,740,.1,750,-1.4,770,-1,780,.6,810,.8,780,-1.2,845,-.6,870,.4,900,-.5,930,-1.1,945,-1.4,960,-.9,975,-.8,990,1,1030,.6,1045,-1.6,1060,-.6,1110,-1.1,1140,.7,1180,1.1,1150,.1,1175,-.9,1200,-1.1,1280,-.5,1300,.6,1330,.4,1345,-.6,1370,-1.3,1400,.9,1420,-.2,1450,.9,1440,.1,1490,1.5,1505,1.3,1495,.8,1510,.1,1520,-.6,1605,-.1,1650,1,1645,.8,1640,.4,1625,-1.2,1700,1.9,1700,-.4,1725,.1,1760,-.3,1790,.6,1815,.7,1820,-.1,1850,-.2,1880,.6,1905,-.3,1925,.2,1950,1.5,1960,1.6,1985,.8,1990,-.4,2010,.7,2050,.6,2040,-.2];

const M60={F1:{DRESS:[m60_F1_DRESS,a60_F1_DRESS],FLEECE:[m60_F1_FLEECE,a60_F1_FLEECE],FOOT:[m60_F1_FOOT,a60_F1_FOOT],GOOSE:[m60_F1_GOOSE,a60_F1_GOOSE],KIT:[m60_F1_KIT,a60_F1_KIT],LOT:[m60_F1_LOT,a60_F1_LOT],NURSE:[m60_F1_NURSE,a60_F1_NURSE],START:[m60_F1_START,a60_F1_START],STRUT:[m60_F1_STRUT,a60_F1_STRUT],THOUGHT:[m60_F1_THOUGHT,a60_F1_THOUGHT],TRAP:[m60_F1_TRAP,a60_F1_TRAP]},
F2:{DRESS:[m60_F2_DRESS,a60_F2_DRESS],FLEECE:[m60_F2_FLEECE,a60_F2_FLEECE],FOOT:[m60_F2_FOOT,a60_F2_FOOT],GOOSE:[m60_F2_GOOSE,a60_F2_GOOSE],KIT:[m60_F2_KIT,a60_F2_KIT],LOT:[m60_F2_LOT,a60_F2_LOT],NURSE:[m60_F2_NURSE,a60_F2_NURSE],START:[m60_F2_START,a60_F2_START],STRUT:[m60_F2_STRUT,a60_F2_STRUT],THOUGHT:[m60_F2_THOUGHT,a60_F2_THOUGHT],TRAP:[m60_F2_TRAP,a60_F2_TRAP]}};
const M240={F1:{DRESS:[m240_F1_DRESS,a240_F1_DRESS],FLEECE:[m240_F1_FLEECE,a240_F1_FLEECE],FOOT:[m240_F1_FOOT,a240_F1_FOOT],GOOSE:[m240_F1_GOOSE,a240_F1_GOOSE],KIT:[m240_F1_KIT,a240_F1_KIT],LOT:[m240_F1_LOT,a240_F1_LOT],NURSE:[m240_F1_NURSE,a240_F1_NURSE],START:[m240_F1_START,a240_F1_START],STRUT:[m240_F1_STRUT,a240_F1_STRUT],THOUGHT:[m240_F1_THOUGHT,a240_F1_THOUGHT],TRAP:[m240_F1_TRAP,a240_F1_TRAP]},
F2:{DRESS:[m240_F2_DRESS,a240_F2_DRESS],FLEECE:[m240_F2_FLEECE,a240_F2_FLEECE],FOOT:[m240_F2_FOOT,a240_F2_FOOT],GOOSE:[m240_F2_GOOSE,a240_F2_GOOSE],KIT:[m240_F2_KIT,a240_F2_KIT],LOT:[m240_F2_LOT,a240_F2_LOT],NURSE:[m240_F2_NURSE,a240_F2_NURSE],START:[m240_F2_START,a240_F2_START],STRUT:[m240_F2_STRUT,a240_F2_STRUT],THOUGHT:[m240_F2_THOUGHT,a240_F2_THOUGHT],TRAP:[m240_F2_TRAP,a240_F2_TRAP]}};
const PTS={F1:{DRESS:pts_F1_DRESS,FLEECE:pts_F1_FLEECE,FOOT:pts_F1_FOOT,GOOSE:pts_F1_GOOSE,KIT:pts_F1_KIT,LOT:pts_F1_LOT,NURSE:pts_F1_NURSE,START:pts_F1_START,STRUT:pts_F1_STRUT,THOUGHT:pts_F1_THOUGHT,TRAP:pts_F1_TRAP},
F2:{DRESS:pts_F2_DRESS,FLEECE:pts_F2_FLEECE,FOOT:pts_F2_FOOT,GOOSE:pts_F2_GOOSE,KIT:pts_F2_KIT,LOT:pts_F2_LOT,NURSE:pts_F2_NURSE,START:pts_F2_START,STRUT:pts_F2_STRUT,THOUGHT:pts_F2_THOUGHT,TRAP:pts_F2_TRAP}};

// blue → red gradient, interpolated in Lab (ggplot's scale_fill_gradient)
function labRgb(L,a,b){
  const fy=(L+16)/116,fx=fy+a/500,fz=fy-b/200,g=t=>t>6/29?t*t*t:3*(6/29)*(6/29)*(t-4/29);
  const X=.95047*g(fx),Y=g(fy),Z=1.08883*g(fz);
  const c=v=>{v=Math.max(0,Math.min(1,v));return Math.round(255*(v<=.0031308?12.92*v:1.055*Math.pow(v,1/2.4)-.055));};
  return `rgb(${c(3.2406*X-1.5372*Y-.4986*Z)},${c(-.9689*X+1.8758*Y+.0415*Z)},${c(.0557*X-.204*Y+1.057*Z)})`;
}
const ramp=t=>{t=Math.max(0,Math.min(1,t));return labRgb(32.3+t*(53.24-32.3),79.19+t*(80.09-79.19),-107.86+t*(67.2+107.86));};

const FONT='"Liberation Sans",Arial,sans-serif';
const XMIN=-101,XMAX=2154,YMIN=-3.34,YMAX=4.04;
const ROW_TOP=103,ROW_STEP=66.3,ROW_H=59;
const PANELS=[
 {file:'F1',left:61,w:356,src:M60,cell:60,lo:-1.98,hi:2.29,yl:true},
 {file:'F2',left:424,w:355,src:M60,cell:60,lo:-1.98,hi:2.29,yl:false},
 {file:'F1',left:956,w:355,src:M240,cell:240,lo:-1.25,hi:.94,yl:true},
 {file:'F2',left:1319,w:355,src:M240,cell:240,lo:-1.25,hi:.94,yl:false}
];
const grid=[],xAxis=[],yAxis=[],series=[],graphic=[];
const X_MINOR=[0,250,500,750,1000,1250,1500,1750,2000],X_MAJOR=[0,500,1000,1500,2000];
const Y_MINOR=[-3,-1,1,3,4],Y_LABELS=[-2,0,2];
const txt=(s,x,y,size,opt={})=>graphic.push({type:'text',x,y,rotation:opt.rot||0,silent:true,z:20,
  style:{text:s,fill:opt.fill||'#000',font:`${size}px ${FONT}`,textAlign:opt.align||'left',textVerticalAlign:'middle',verticalAlign:'middle'}});
const box=(x,y,w,h,fill)=>graphic.push({type:'rect',silent:true,z:5,shape:{x,y,width:w,height:h},style:{fill}});

PANELS.forEach(p=>{
  box(p.left,80,p.w,23,'#D9D9D9');
  txt(p.file+'_50',p.left+p.w/2,93.5,12,{align:'center',fill:'#1A1A1A'});
  PHONEMES.forEach((ph,r)=>{
    const g=grid.length,top=ROW_TOP+ROW_STEP*r,bottom=r===PHONEMES.length-1;
    grid.push({left:p.left,top,width:p.w,height:ROW_H,show:true,backgroundColor:'#EBEBEB',borderWidth:0,containLabel:false});
    const xa=(vals,wd,show)=>({type:'value',gridIndex:g,position:'bottom',min:XMIN,max:XMAX,
      axisLine:{show:false,onZero:false},
      axisTick:{show,customValues:vals,length:3,lineStyle:{color:'#333',width:1}},
      axisLabel:{show,customValues:vals,color:'#4D4D4D',fontFamily:FONT,fontSize:12,margin:7,hideOverlap:false,formatter:v=>String(v)},
      splitLine:{show:true,lineStyle:{color:'#fff',width:wd}}});
    xAxis.push(xa(X_MINOR,.7,false),xa(X_MAJOR,1.3,bottom));
    const ya=(vals,wd,show)=>({type:'value',gridIndex:g,position:'left',min:YMIN,max:YMAX,
      axisLine:{show:false,onZero:false},
      axisTick:{show,customValues:vals,length:3,lineStyle:{color:'#333',width:1}},
      axisLabel:{show,customValues:vals,color:'#4D4D4D',fontFamily:FONT,fontSize:12,margin:6,hideOverlap:false,formatter:v=>String(v)},
      splitLine:{show:true,lineStyle:{color:'#fff',width:wd}}});
    yAxis.push(ya(Y_MINOR,.7,false),ya(Y_LABELS,1.3,p.yl));
    const [means,alphas]=p.src[p.file][ph];
    const cells=[];
    means.forEach((m,i)=>{if(m!==null)cells.push([i*p.cell,m,alphas[i]]);});
    series.push({type:'custom',coordinateSystem:'cartesian2d',xAxisIndex:g*2,yAxisIndex:g*2,clip:false,silent:true,z:2,animation:false,
      data:cells,
      renderItem:(params,api)=>{
        const t=api.value(0),p0=api.coord([t,3.04]),p1=api.coord([t+p.cell,-2.96]);
        const x=Math.round(p0[0]),x1=Math.round(p1[0]),y=Math.round(p0[1]),y1=Math.round(p1[1]);
        return {type:'rect',shape:{x,y,width:x1-x,height:y1-y},style:{fill:ramp((api.value(1)-p.lo)/(p.hi-p.lo)),opacity:api.value(2)}};
      }});
    const flat=PTS[p.file][ph],pts=[];
    for(let i=0;i<flat.length;i+=2)pts.push([flat[i],flat[i+1]]);
    series.push({type:'scatter',xAxisIndex:g*2,yAxisIndex:g*2,clip:false,silent:true,z:3,animation:false,progressive:0,
      symbol:'circle',symbolSize:2.6,itemStyle:{color:'#000',opacity:.85},data:pts});
    if(!p.yl){
      box(p.left+p.w,top,24,ROW_H,'#D9D9D9');
      txt(ph,p.left+p.w+12,top+ROW_H/2,12,{align:'center',fill:'#1A1A1A',rot:-Math.PI/2});
    }
  });
});

// panel headings
txt('A',14,25,16);txt('QB_NZ_F_369',61,41,17.7);txt('60 second intervals with raw data',61,65,14.4);
txt('B',908,25,16);txt('QB_NZ_F_369',956,41,17.7);txt('240 second intervals with raw data',956,65,14.4);
txt('Time (seconds)',420,855,15,{align:'center'});txt('Time (seconds)',1315,855,15,{align:'center'});
txt('Scaled frequency',33,463,14.5,{align:'center',rot:Math.PI/2});txt('Scaled frequency',928,463,14.5,{align:'center',rot:Math.PI/2});

// colour bars
function legend(x,title,lo,hi,ticks,fmt){
  const top=417.7,h=115,w=23,stops=[];
  for(let i=0;i<=40;i++)stops.push({offset:i/40,color:ramp(1-i/40)});
  graphic.push({type:'rect',silent:true,z:6,shape:{x,y:top,width:w,height:h},style:{fill:{type:'linear',x:0,y:0,x2:0,y2:1,colorStops:stops}}});
  txt(title,x,405.5,14.5);
  ticks.forEach(v=>{
    const y=top+h*(hi-v)/(hi-lo);
    [[x,x+4.6],[x+w-4.6,x+w]].forEach(([a,b])=>graphic.push({type:'line',silent:true,z:7,shape:{x1:a,y1:y,x2:b,y2:y},style:{stroke:'#fff',lineWidth:1}}));
    txt(fmt(v),x+w+7,y,12);
  });
}
legend(825,'mean_60',-1.98,2.29,[-1,0,1,2],v=>String(v));
legend(1720,'mean_240',-1.25,.94,[-1,-.5,0,.5],v=>v.toFixed(1));

const chart=echarts.init(document.getElementById('c'),null,{renderer:'canvas',width:1811,height:877});
chart.setOption({animation:false,backgroundColor:'#fff',tooltip:{show:false},grid,xAxis,yAxis,series,graphic:{elements:graphic}});
</script></body></html>
